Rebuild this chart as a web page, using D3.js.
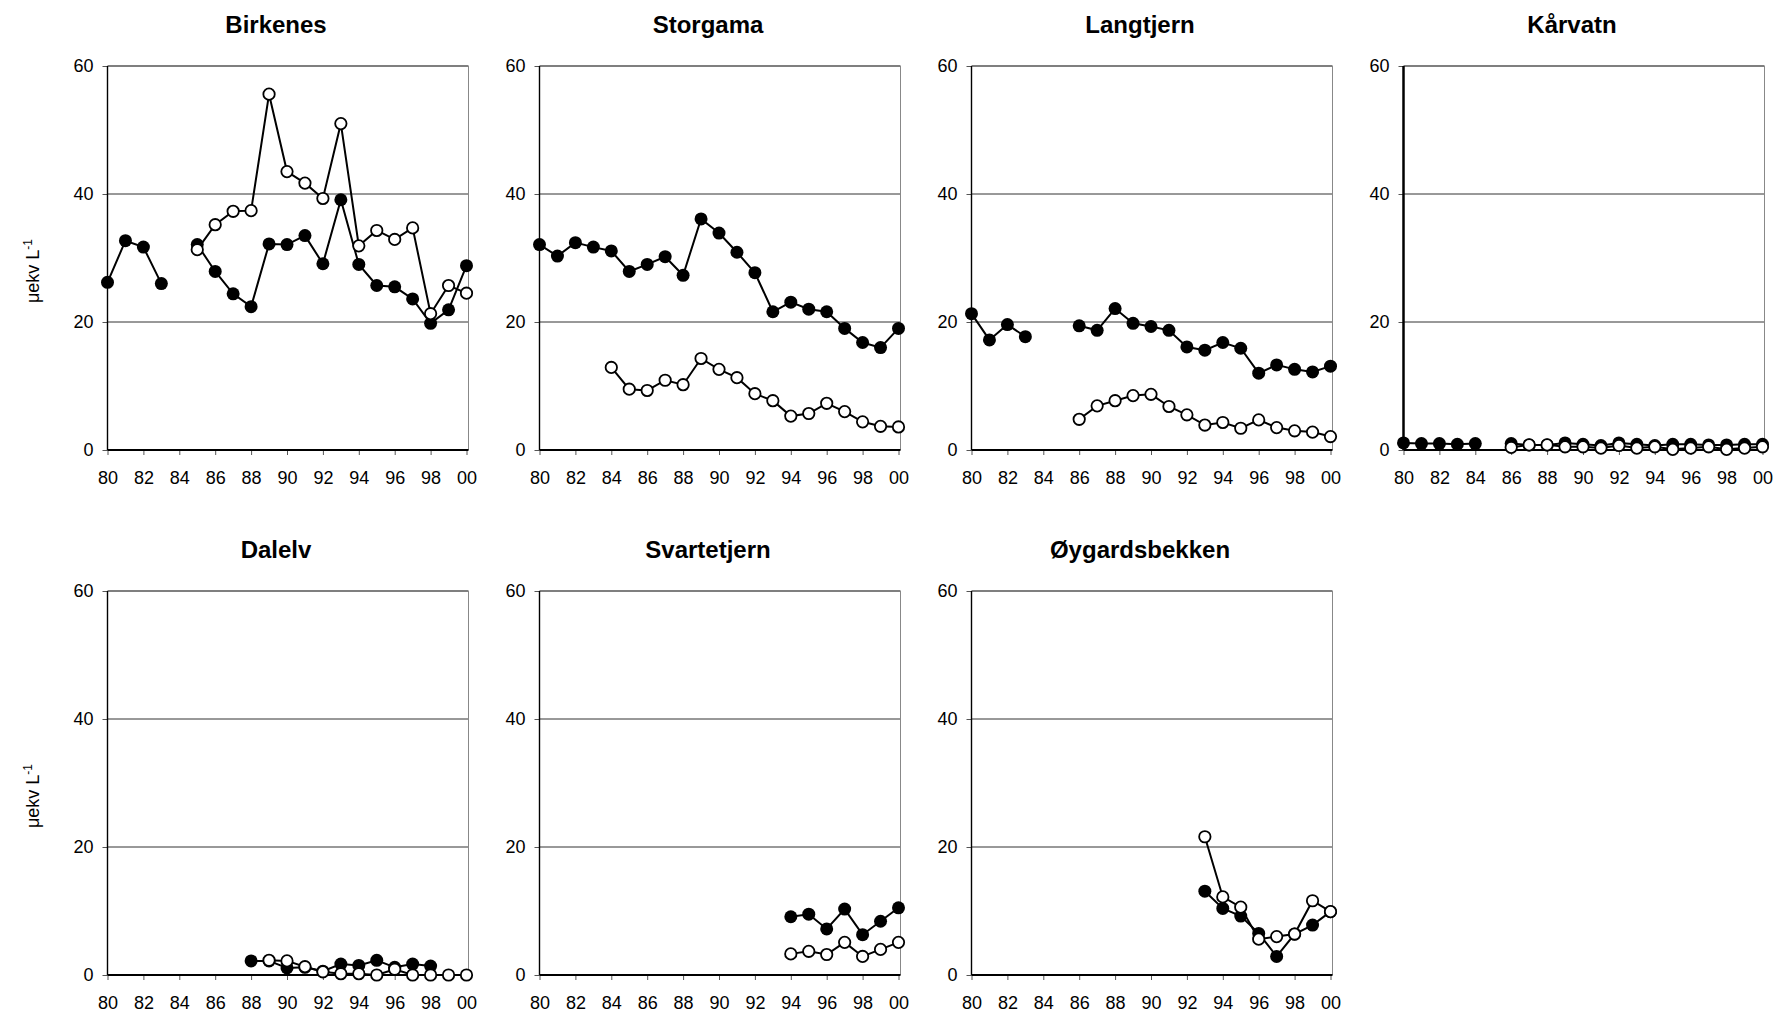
<!DOCTYPE html>
<html lang="en">
<head>
  <meta charset="utf-8" />
  <title>Seven sites, 1980-2000</title>
  <script type="text/javascript" src="https://cdn.jsdelivr.net/npm/d3@7/dist/d3.min.js"></script>
  <style>
    body { margin: 0; background: white; }
    svg text { font-family: "Liberation Sans", Arial, sans-serif; fill: black; }
  </style>
</head>
<body>

<script type="text/javascript">

// years on the x axis
var years = d3.range(1980, 2001);
var xTicks = d3.range(1980, 2001, 2);
var yTicks = [0, 20, 40, 60];
var yLabel = "\u03bcekv L";
var yLabelSup = "-1";

// one value per year, null = no sample
var birkenesFilled = [26.2, 32.7, 31.7, 26.0, null, 32.1, 27.9, 24.4, 22.4, 32.2, 32.1, 33.5, 29.1, 39.1, 29.0, 25.7, 25.5, 23.6, 19.8, 21.9, 28.8];
var birkenesOpen   = [null, null, null, null, null, 31.3, 35.2, 37.3, 37.4, 55.6, 43.5, 41.7, 39.3, 51.0, 31.9, 34.3, 32.9, 34.7, 21.3, 25.7, 24.5];

var storgamaFilled = [32.1, 30.3, 32.4, 31.7, 31.1, 27.9, 29.0, 30.2, 27.3, 36.1, 33.9, 30.9, 27.7, 21.6, 23.1, 22.0, 21.6, 19.0, 16.8, 16.0, 19.0];
var storgamaOpen   = [null, null, null, null, 12.9, 9.5, 9.3, 10.9, 10.2, 14.3, 12.6, 11.3, 8.8, 7.7, 5.3, 5.7, 7.3, 6.0, 4.4, 3.7, 3.6];

var langtjernFilled = [21.3, 17.2, 19.6, 17.7, null, null, 19.4, 18.7, 22.1, 19.8, 19.3, 18.7, 16.1, 15.6, 16.8, 15.9, 12.0, 13.3, 12.6, 12.2, 13.1];
var langtjernOpen   = [null, null, null, null, null, null, 4.8, 6.9, 7.7, 8.5, 8.7, 6.8, 5.5, 3.9, 4.3, 3.4, 4.7, 3.5, 3.0, 2.8, 2.1];

var karvatnFilled = [1.1, 1.0, 1.0, 0.9, 1.0, null, 1.0, 0.8, 0.8, 1.1, 0.9, 0.7, 1.1, 0.9, 0.7, 0.9, 0.9, 0.8, 0.8, 0.9, 0.9];
var karvatnOpen   = [null, null, null, null, null, null, 0.4, 0.8, 0.8, 0.5, 0.5, 0.3, 0.7, 0.3, 0.5, 0.1, 0.3, 0.5, 0.1, 0.3, 0.5];

var dalelvFilled = [null, null, null, null, null, null, null, null, 2.2, 2.2, 1.1, 1.2, 0.6, 1.7, 1.5, 2.3, 1.2, 1.7, 1.4, null, null];
var dalelvOpen   = [null, null, null, null, null, null, null, null, null, 2.3, 2.2, 1.3, 0.5, 0.2, 0.2, 0.0, 0.9, 0.0, 0.0, 0.0, 0.0];

var svartetjernFilled = [null, null, null, null, null, null, null, null, null, null, null, null, null, null, 9.1, 9.5, 7.2, 10.3, 6.3, 8.4, 10.5];
var svartetjernOpen   = [null, null, null, null, null, null, null, null, null, null, null, null, null, null, 3.3, 3.7, 3.2, 5.1, 2.9, 4.0, 5.1];

var oygardFilled = [null, null, null, null, null, null, null, null, null, null, null, null, null, 13.1, 10.4, 9.2, 6.5, 2.9, 6.4, 7.8, 9.9];
var oygardOpen   = [null, null, null, null, null, null, null, null, null, null, null, null, null, 21.6, 12.2, 10.6, 5.6, 6.0, 6.4, 11.6, 9.9];

var sites = [
  {name: "Birkenes",       filled: birkenesFilled,    open: birkenesOpen},
  {name: "Storgama",       filled: storgamaFilled,    open: storgamaOpen},
  {name: "Langtjern",      filled: langtjernFilled,   open: langtjernOpen},
  {name: "K\u00e5rvatn",   filled: karvatnFilled,     open: karvatnOpen},
  {name: "Dalelv",         filled: dalelvFilled,      open: dalelvOpen},
  {name: "Svartetjern",    filled: svartetjernFilled, open: svartetjernOpen},
  {name: "\u00d8ygardsbekken", filled: oygardFilled,  open: oygardOpen}
];

// layout
var W = 1776, H = 1014;
var colLeft = [107.5, 539.5, 971.5, 1403.5];
var rowTop = [66, 591];
var pw = 361, ph = 384;
var xSpan = 359;
var r = 6.5;

var x = d3.scaleLinear().domain([1980, 2000]).range([0, xSpan]);
var y = d3.scaleLinear().domain([0, 60]).range([ph, 0]);

var svg = d3.select("body")
            .append("svg")
            .attr("width", W)
            .attr("height", H);

svg.append("rect").attr("width", W).attr("height", H).attr("fill", "white");

sites.forEach(function(site, i) {
  var col = i % 4, row = Math.floor(i / 4);
  var g = svg.append("g")
             .attr("transform", "translate(" + colLeft[col] + "," + rowTop[row] + ")");

  // title
  g.append("text")
   .attr("x", pw / 2 - 12)
   .attr("y", -33)
   .attr("text-anchor", "middle")
   .style("font-size", "24px")
   .style("font-weight", "bold")
   .text(site.name);

  // grid lines
  g.selectAll(".grid")
   .data([20, 40])
   .enter().append("line")
   .attr("x1", 0).attr("x2", pw)
   .attr("y1", function(d) { return y(d); })
   .attr("y2", function(d) { return y(d); })
   .attr("stroke", "#333")
   .attr("stroke-width", 1);

  // frame: top and right
  g.append("line").attr("x1", 0).attr("x2", pw).attr("y1", y(60)).attr("y2", y(60))
   .attr("stroke", "black").attr("stroke-width", 1.2);
  g.append("line").attr("x1", pw).attr("x2", pw).attr("y1", 0).attr("y2", ph)
   .attr("stroke", "#888").attr("stroke-width", 1);

  // y axis
  var yAxis = d3.axisLeft(y).tickValues(yTicks).tickSize(5).tickPadding(9);
  var ya = g.append("g").call(yAxis);
  ya.select(".domain").remove();
  ya.selectAll(".tick line").attr("stroke", "#555");
  ya.selectAll("text").style("font-size", "18px").attr("fill", "black");
  g.append("line").attr("x1", 0).attr("x2", 0).attr("y1", 0).attr("y2", ph)
   .attr("stroke", "black").attr("stroke-width", site.name === "K\u00e5rvatn" ? 2.5 : 1.4);

  // x axis
  var xAxis = d3.axisBottom(x).tickValues(xTicks).tickSize(5).tickPadding(16)
                .tickFormat(function(d) { return String(d).slice(2); });
  var xa = g.append("g").attr("transform", "translate(0," + ph + ")").call(xAxis);
  xa.select(".domain").remove();
  xa.selectAll(".tick line").attr("stroke", "#555");
  xa.selectAll("text").style("font-size", "18px").attr("fill", "black");
  g.append("line").attr("x1", 0).attr("x2", pw).attr("y1", ph).attr("y2", ph)
   .attr("stroke", "black").attr("stroke-width", 2);

  // y label on first column
  if (col === 0) {
    var t = svg.append("text")
               .attr("transform", "translate(39," + (rowTop[row] + ph / 2 + 13) + ") rotate(-90)")
               .attr("text-anchor", "middle")
               .style("font-size", "18px");
    t.append("tspan").text(yLabel);
    t.append("tspan").attr("dy", "-0.55em").style("font-size", "12px").text(yLabelSup);
  }

  // series: filled first, open on top
  [["filled", "black"], ["open", "white"]].forEach(function(s) {
    var pts = years.map(function(yr, k) { return {yr: yr, v: site[s[0]][k]}; });
    var line = d3.line()
                 .defined(function(d) { return d.v !== null; })
                 .x(function(d) { return x(d.yr); })
                 .y(function(d) { return y(d.v); });
    g.append("path")
     .datum(pts)
     .attr("d", line)
     .attr("fill", "none")
     .attr("stroke", "black")
     .attr("stroke-width", 2);
    g.selectAll(".m-" + s[0])
     .data(pts.filter(function(d) { return d.v !== null; }))
     .enter().append("circle")
     .attr("class", "m-" + s[0])
     .attr("cx", function(d) { return x(d.yr); })
     .attr("cy", function(d) { return y(d.v); })
     .attr("r", s[0] === "open" ? r - 0.8 : r)
     .attr("fill", s[1])
     .attr("stroke", "black")
     .attr("stroke-width", s[0] === "open" ? 1.8 : 0);
  });
});

</script>

</body>
</html>
